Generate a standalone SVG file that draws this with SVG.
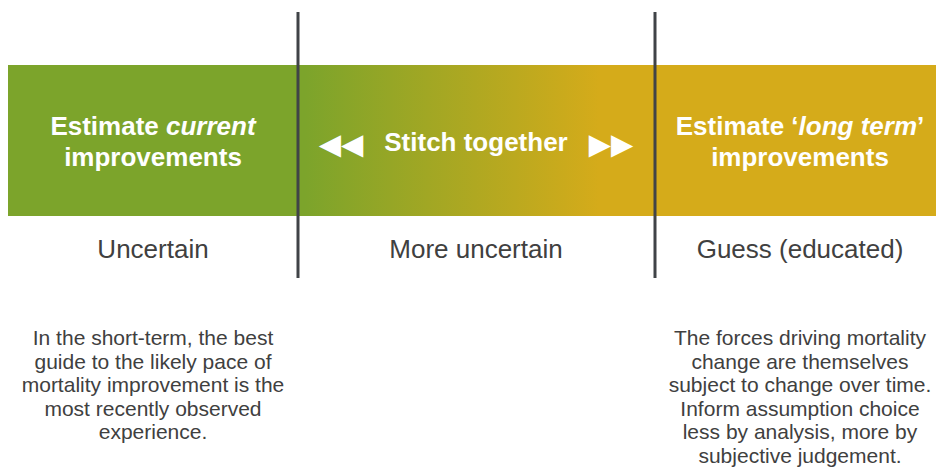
<svg xmlns="http://www.w3.org/2000/svg" width="936" height="475" viewBox="0 0 936 475">
<style>
.t{font-family:"Liberation Sans",Arial,sans-serif;font-weight:bold;font-size:26px;fill:#fff;text-anchor:middle}
.a{font-family:"DejaVu Sans",sans-serif;font-size:29px;fill:#fff;text-anchor:middle}
.s{font-family:"Liberation Sans",Arial,sans-serif;font-size:26px;fill:#404040;text-anchor:middle}
.d{font-family:"Liberation Sans",Arial,sans-serif;font-size:21px;fill:#404040;text-anchor:middle}
.v{stroke:#404347;stroke-width:3}
</style>
<defs>
<linearGradient id="g" gradientUnits="userSpaceOnUse" x1="305" y1="0" x2="600" y2="0">
<stop offset="0" stop-color="#7ca42b"/>
<stop offset="1" stop-color="#d5ab1a"/>
</linearGradient>
</defs>
<g id="bar">
<rect x="8" y="65" width="290" height="151" fill="#7ca42b"/>
<rect x="298" y="65" width="357" height="151" fill="url(#g)"/>
<rect x="655" y="65" width="281" height="151" fill="#d5ab1a"/>
</g>
<g id="current">
<text class="t" x="153" y="135">Estimate <tspan font-style="italic">current</tspan></text>
<text class="t" x="153" y="166">improvements</text>
<text class="s" x="153" y="258">Uncertain</text>
<text class="d" x="153" y="345">In the short-term, the best</text>
<text class="d" x="153" y="368.6">guide to the likely pace of</text>
<text class="d" x="153" y="392.2">mortality improvement is the</text>
<text class="d" x="153" y="415.8">most recently observed</text>
<text class="d" x="153" y="439.4">experience.</text>
</g>
<g id="stitch">
<text class="a" x="341" y="154">◀◀</text>
<text class="t" x="476" y="151">Stitch together</text>
<text class="a" x="611" y="154">▶▶</text>
<text class="s" x="476" y="258">More uncertain</text>
</g>
<g id="longterm">
<text class="t" x="800" y="135">Estimate ‘<tspan font-style="italic">long term</tspan>’</text>
<text class="t" x="800" y="166">improvements</text>
<text class="s" x="800" y="258">Guess (educated)</text>
<text class="d" x="800" y="345">The forces driving mortality</text>
<text class="d" x="800" y="368.6">change are themselves</text>
<text class="d" x="800" y="392.2">subject to change over time.</text>
<text class="d" x="800" y="415.8">Inform assumption choice</text>
<text class="d" x="800" y="439.4">less by analysis, more by</text>
<text class="d" x="800" y="463">subjective judgement.</text>
</g>
<g id="connectors">
<line class="v" x1="298" y1="12" x2="298" y2="278"/>
<line class="v" x1="655" y1="12" x2="655" y2="278"/>
</g>
</svg>
